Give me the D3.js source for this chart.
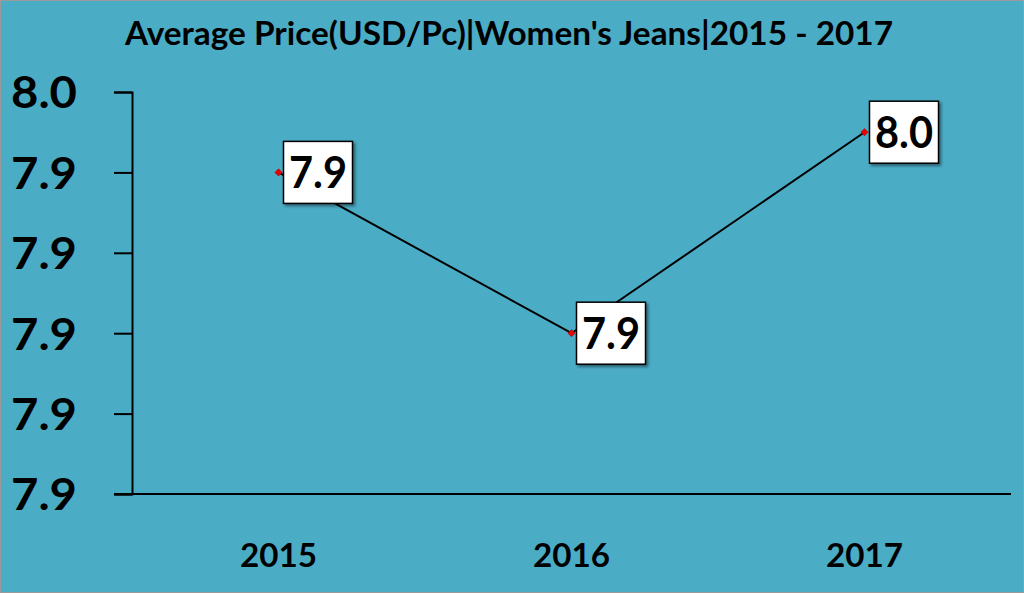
<!DOCTYPE html>
<html><head><meta charset="utf-8">
<script src="https://cdn.jsdelivr.net/npm/d3@7"></script>
<style>html,body{margin:0;padding:0;background:#fff}svg{display:block}</style>
</head><body>
<script>
const years = ["2015", "2016", "2017"];
const prices = [7.94, 7.90, 7.95];
const yTicks = [7.86, 7.88, 7.90, 7.92, 7.94, 7.96];
const titleText = "Average Price(USD/Pc)|Women's Jeans|2015 - 2017";

(function () {
const W = 1024, H = 593;
const FONT = "Lato, 'Open Sans', sans-serif";
const svg = d3.select("body").append("svg").attr("width", W).attr("height", H);

const defs = svg.append("defs");
const f = defs.append("filter").attr("id", "sh").attr("x", "-20%").attr("y", "-20%").attr("width", "150%").attr("height", "150%");
f.append("feDropShadow").attr("dx", 2).attr("dy", 2).attr("stdDeviation", 1.5).attr("flood-color", "#000").attr("flood-opacity", 0.45);

svg.append("rect").attr("x", 0.5).attr("y", 0.5).attr("width", W - 1).attr("height", H - 1)
  .attr("fill", "#4BACC6").attr("stroke", "#9a9a9a").attr("stroke-width", 1);

svg.append("text").attr("x", 509).attr("y", 45).attr("text-anchor", "middle")
  .attr("font-family", FONT).attr("font-weight", "bold").attr("font-size", 33)
  .attr("textLength", 768).attr("lengthAdjust", "spacingAndGlyphs")
  .attr("fill", "#000").text(titleText);

const mLeft = 132, mRight = 1011, mTop = 92, mBottom = 494;
const x = d3.scaleBand().domain(years).range([mLeft, mRight]);
const y = d3.scaleLinear().domain([7.86, 7.96]).range([mBottom, mTop]);

const yAxis = svg.append("g").attr("transform", `translate(${mLeft},0)`)
  .call(d3.axisLeft(y).tickValues(yTicks).tickFormat(d3.format(".1f")).tickSize(18).tickPadding(0));
yAxis.select(".domain").attr("stroke", "#000").attr("stroke-width", 2);
yAxis.selectAll(".tick line").attr("stroke", "#000").attr("stroke-width", 2);
yAxis.selectAll(".tick text").attr("x", -55).attr("dy", "0.36em").attr("fill", "#000")
  .attr("font-family", FONT).attr("font-weight", "bold").attr("font-size", 44)
  .attr("textLength", 66).attr("lengthAdjust", "spacingAndGlyphs")
  .attr("text-anchor", "end");

const xAxis = svg.append("g").attr("transform", `translate(0,${mBottom})`)
  .call(d3.axisBottom(x).tickSize(0).tickPadding(0));
xAxis.select(".domain").attr("stroke", "#000").attr("stroke-width", 2).attr("d", `M${mLeft - 18},0H${mRight}`);
xAxis.selectAll(".tick text").attr("y", 73).attr("dy", 0).attr("fill", "#000")
  .attr("font-family", FONT).attr("font-weight", "bold").attr("font-size", 33)
  .attr("textLength", 77).attr("lengthAdjust", "spacingAndGlyphs");

const cx = d => x(d) + x.bandwidth() / 2;
const line = d3.line().x((d, i) => cx(years[i])).y(d => y(d));
svg.append("path").datum(prices).attr("d", line).attr("fill", "none")
  .attr("stroke", "#000").attr("stroke-width", 2);

svg.selectAll(".mk").data(prices).enter().append("path").attr("class", "mk")
  .attr("transform", (d, i) => `translate(${cx(years[i])},${y(d)}) rotate(45)`)
  .attr("d", d3.symbol().type(d3.symbolSquare).size(26))
  .attr("fill", "#ee0000").attr("stroke", "#900").attr("stroke-width", 0.5);

const lab = svg.selectAll(".lab").data(prices).enter().append("g").attr("class", "lab")
  .attr("transform", (d, i) => `translate(${cx(years[i]) + 5},${y(d) - 31})`);
lab.append("rect").attr("width", 69).attr("height", 62).attr("fill", "#fff")
  .attr("stroke", "#000").attr("stroke-width", 1.5).attr("filter", "url(#sh)");
lab.append("text").attr("x", 34.5).attr("y", 47).attr("text-anchor", "middle")
  .attr("font-family", FONT).attr("font-weight", "bold").attr("font-size", 44)
  .attr("textLength", 58).attr("lengthAdjust", "spacingAndGlyphs")
  .attr("fill", "#000").text(d => d3.format(".1f")(d));
})();
</script>
</body></html>
